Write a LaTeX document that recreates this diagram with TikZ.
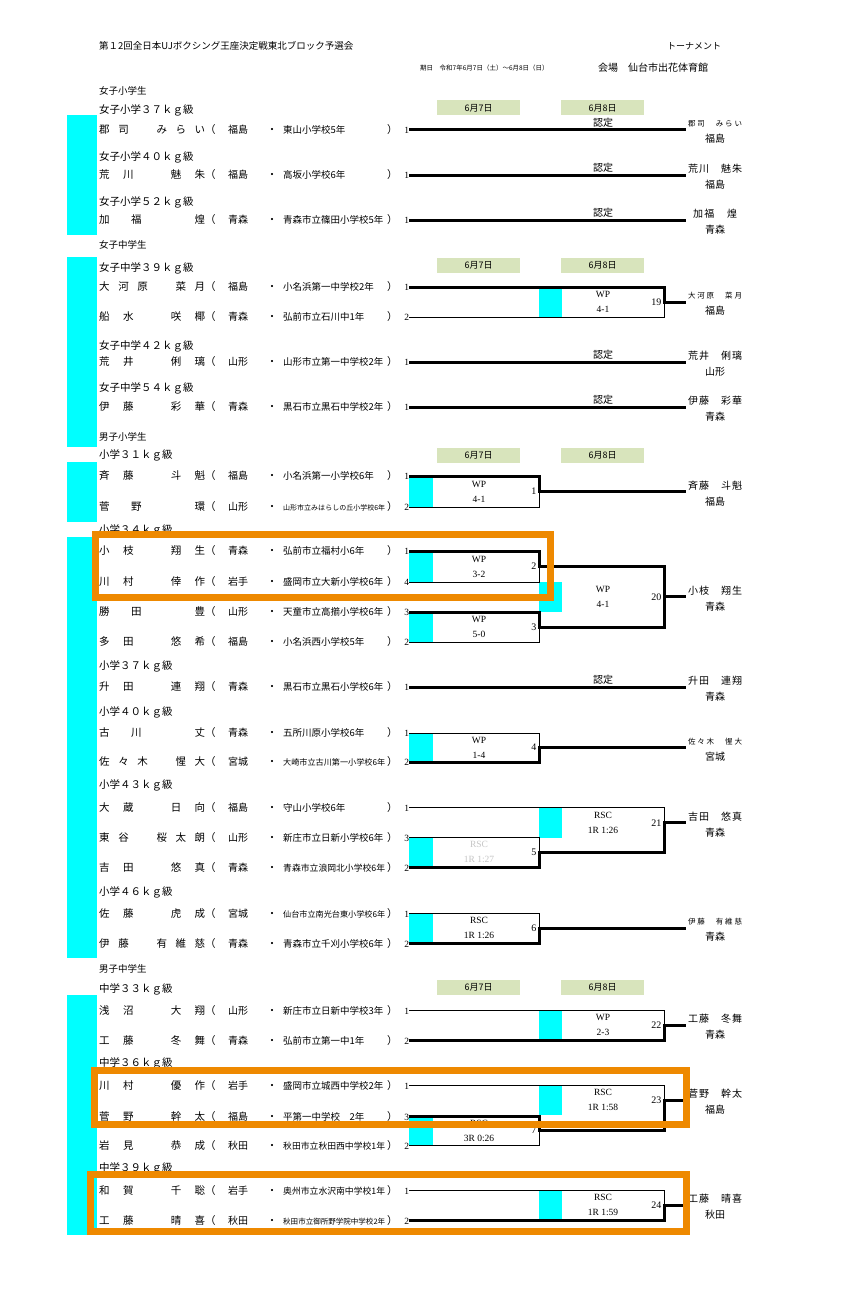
\documentclass[tikz,border=0pt]{standalone}
\usepackage{fontspec}
\usepackage{graphicx}
\setmainfont{Noto Sans CJK JP}
\newfontfamily\lat{Liberation Serif}
\usetikzlibrary{calc}
\definecolor{boxorange}{RGB}{238,137,0}
\definecolor{dategreen}{RGB}{216,228,188}
\definecolor{barcyan}{RGB}{0,255,255}
\def\spreadloop#1#2{#1\ifx\relax#2\expandafter\spreadend\else\hfill\expandafter\spreadloop\fi#2}
\def\spreadend#1{}
\newcommand\spread[2][106pt]{\makebox[#1][s]{\spreadloop#2\relax}}
\newsavebox\schbox
\newcommand\fitschool[1]{\sbox\schbox{\fontsize{9.5}{11}\selectfont #1}%
	\ifdim\wd\schbox>102pt\resizebox{102pt}{!}{\usebox\schbox}\else\usebox\schbox\fi}
\newcommand\player[4]{\spread{#1}\makebox[11pt][l]{（}\hspace{12pt}%
	\makebox[38.5pt][l]{\fontsize{10}{12}\selectfont #2}\makebox[11pt]{・}\hspace{5.5pt}%
	\makebox[104pt][l]{\fitschool{#3}}\makebox[11pt][l]{）}%
	\makebox[11pt][r]{\lat\fontsize{9.5}{10}\selectfont #4}\hspace{5pt}}
\newcommand\wsmall{\fontsize{7.5}{16}\selectfont}
\begin{document}
\begin{tikzpicture}[x=1pt, y=-1pt,
	every node/.style = {inner sep=0pt},
	row/.style = {anchor=west, font=\fontsize{10.5}{12}\selectfont},
	klass/.style = {anchor=west, font=\fontsize{10.5}{12}\selectfont},
	division/.style = {anchor=west, font=\fontsize{9.5}{11}\selectfont},
	datebox/.style = {fill=dategreen, minimum width=83pt, minimum height=15pt,
		font=\fontsize{9}{10}\selectfont},
	win/.style = {line width=3pt, line join=miter},
	lose/.style = {line width=0.9pt},
	nintei/.style = {font=\fontsize{10}{12}\selectfont},
	result/.style = {align=center, font=\lat\fontsize{9.5}{15}\selectfont},
	num/.style = {anchor=east, inner sep=2.5pt, font=\lat\fontsize{10}{11}\selectfont},
	winner/.style = {align=center, font=\fontsize{10}{16}\selectfont},
	band/.style = {draw=boxorange, line width=7pt}]
	\fill[white] (0,0) rectangle (844,1295);
	\useasboundingbox (0,0) rectangle (844,1295);

	\fill[barcyan] (67,115) rectangle (97,235);
	\fill[barcyan] (67,257) rectangle (97,447);
	\fill[barcyan] (67,462) rectangle (97,522);
	\fill[barcyan] (67,537) rectangle (97,958);
	\fill[barcyan] (67,995) rectangle (97,1235);

	\node[anchor=west, font=\fontsize{9.5}{11}\selectfont] (title) at (99,46)
		{第１2回全日本UJボクシング王座決定戦東北ブロック予選会};
	\node[anchor=west, font=\fontsize{9}{11}\selectfont] (kind) at (667,46) {トーナメント};
	\node[anchor=west, font=\fontsize{6.5}{8}\selectfont] (dates) at (420,68)
		{期日　令和7年6月7日（土）～6月8日（日）};
	\node[anchor=west, font=\fontsize{10}{12}\selectfont] (venue) at (598,68) {会場　仙台市出花体育館};

	\node[datebox] (d1a) at (478.5,108) {6月7日};
	\node[datebox] (d1b) at (602.5,108) {6月8日};
	\node[datebox] (d2a) at (478.5,265) {6月7日};
	\node[datebox] (d2b) at (602.5,265) {6月8日};
	\node[datebox] (d3a) at (478.5,455) {6月7日};
	\node[datebox] (d3b) at (602.5,455) {6月8日};
	\node[datebox] (d4a) at (478.5,987) {6月7日};
	\node[datebox] (d4b) at (602.5,987) {6月8日};

	\node[division] (g1) at (99,91) {女子小学生};
	\node[klass] (k1) at (99,110) {女子小学３７ｋｇ級};
	\node[klass] (k2) at (99,157) {女子小学４０ｋｇ級};
	\node[klass] (k3) at (99,202) {女子小学５２ｋｇ級};
	\node[division] (g2) at (99,245) {女子中学生};
	\node[klass] (k4) at (99,268) {女子中学３９ｋｇ級};
	\node[klass] (k5) at (99,346) {女子中学４２ｋｇ級};
	\node[klass] (k6) at (99,388) {女子中学５４ｋｇ級};
	\node[division] (g3) at (99,437) {男子小学生};
	\node[klass] (k7) at (99,455) {小学３１ｋｇ級};
	\node[klass] (k8) at (99,530) {小学３４ｋｇ級};
	\node[klass] (k9) at (99,666) {小学３７ｋｇ級};
	\node[klass] (k10) at (99,712) {小学４０ｋｇ級};
	\node[klass] (k11) at (99,785) {小学４３ｋｇ級};
	\node[klass] (k12) at (99,892) {小学４６ｋｇ級};
	\node[division] (g4) at (99,969) {男子中学生};
	\node[klass] (k13) at (99,989) {中学３３ｋｇ級};
	\node[klass] (k14) at (99,1063) {中学３６ｋｇ級};
	\node[klass] (k15) at (99,1168) {中学３９ｋｇ級};

	\node[row] (p1) at (99,130) {\player{郡司　みらい}{福島}{東山小学校5年}{1}};
	\node[row] (p2) at (99,175) {\player{荒川　魅朱}{福島}{高坂小学校6年}{1}};
	\node[row] (p3) at (99,220) {\player{加福　煌}{青森}{青森市立篠田小学校5年}{1}};
	\node[row] (p4) at (99,287) {\player{大河原　菜月}{福島}{小名浜第一中学校2年}{1}};
	\node[row] (p5) at (99,317) {\player{船水　咲椰}{青森}{弘前市立石川中1年}{2}};
	\node[row] (p6) at (99,362) {\player{荒井　俐璃}{山形}{山形市立第一中学校2年}{1}};
	\node[row] (p7) at (99,407) {\player{伊藤　彩華}{青森}{黒石市立黒石中学校2年}{1}};
	\node[row] (p8) at (99,476) {\player{斉藤　斗魁}{福島}{小名浜第一小学校6年}{1}};
	\node[row] (p9) at (99,507) {\player{菅野　環}{山形}{山形市立みはらしの丘小学校6年}{2}};
	\node[row] (p10) at (99,551) {\player{小枝　翔生}{青森}{弘前市立福村小6年}{1}};
	\node[row] (p11) at (99,582) {\player{川村　倖作}{岩手}{盛岡市立大新小学校6年}{4}};
	\node[row] (p12) at (99,612) {\player{勝田　豊}{山形}{天童市立高擶小学校6年}{3}};
	\node[row] (p13) at (99,642) {\player{多田　悠希}{福島}{小名浜西小学校5年}{2}};
	\node[row] (p14) at (99,687) {\player{升田　連翔}{青森}{黒石市立黒石小学校6年}{1}};
	\node[row] (p15) at (99,733) {\player{古川　丈}{青森}{五所川原小学校6年}{1}};
	\node[row] (p16) at (99,762) {\player{佐々木　惺大}{宮城}{大崎市立古川第一小学校6年}{2}};
	\node[row] (p17) at (99,807) {\player{大蔵　日向}{福島}{守山小学校6年}{1}};
	\node[row] (p18) at (99,837) {\player{東谷　桜太朗}{山形}{新庄市立日新小学校6年}{3}};
	\node[row] (p19) at (99,867) {\player{吉田　悠真}{青森}{青森市立浪岡北小学校6年}{2}};
	\node[row] (p20) at (99,913) {\player{佐藤　虎成}{宮城}{仙台市立南光台東小学校6年}{1}};
	\node[row] (p21) at (99,943) {\player{伊藤　有維慈}{青森}{青森市立千刈小学校6年}{2}};
	\node[row] (p22) at (99,1010) {\player{浅沼　大翔}{山形}{新庄市立日新中学校3年}{1}};
	\node[row] (p23) at (99,1040) {\player{工藤　冬舞}{青森}{弘前市立第一中1年}{2}};
	\node[row] (p24) at (99,1085) {\player{川村　優作}{岩手}{盛岡市立城西中学校2年}{1}};
	\node[row] (p25) at (99,1116) {\player{菅野　幹太}{福島}{平第一中学校　2年}{3}};
	\node[row] (p26) at (99,1145) {\player{岩見　恭成}{秋田}{秋田市立秋田西中学校1年}{2}};
	\node[row] (p27) at (99,1190) {\player{和賀　千聡}{岩手}{奥州市立水沢南中学校1年}{1}};
	\node[row] (p28) at (99,1220) {\player{工藤　晴喜}{秋田}{秋田市立御所野学院中学校2年}{2}};

	\coordinate (xa) at (539,0);
	\coordinate (xb) at (664,0);
	\coordinate (xe) at (686,0);
	\coordinate (xr1) at (479,0);
	\coordinate (xr2) at (603,0);
	\coordinate (xw) at (715,0);

	\coordinate (m1) at ($(p8.east -| xa)!.5!(p9.east -| xa)$);
	\coordinate (m2) at ($(p10.east -| xa)!.5!(p11.east -| xa)$);
	\coordinate (m3) at ($(p12.east -| xa)!.5!(p13.east -| xa)$);
	\coordinate (m4) at ($(p15.east -| xa)!.5!(p16.east -| xa)$);
	\coordinate (m5) at ($(p18.east -| xa)!.5!(p19.east -| xa)$);
	\coordinate (m6) at ($(p20.east -| xa)!.5!(p21.east -| xa)$);
	\coordinate (m7) at ($(p25.east -| xa)!.5!(p26.east -| xa)$);
	\coordinate (m19) at ($(p4.east -| xb)!.5!(p5.east -| xb)$);
	\coordinate (m20) at ($(m2 -| xb)!.5!(m3 -| xb)$);
	\coordinate (m21) at ($(p17.east -| xb)!.35!(m5 -| xb)$);
	\coordinate (m22) at ($(p22.east -| xb)!.5!(p23.east -| xb)$);
	\coordinate (m23) at ($(p24.east -| xb)!.33!(m7 -| xb)$);
	\coordinate (m24) at ($(p27.east -| xb)!.5!(p28.east -| xb)$);

	\fill[barcyan] (p8.east) rectangle ($(p9.east)+(24,0)$);
	\fill[barcyan] (p10.east) rectangle ($(p11.east)+(24,0)$);
	\fill[barcyan] (p12.east) rectangle ($(p13.east)+(24,0)$);
	\fill[barcyan] (p15.east) rectangle ($(p16.east)+(24,0)$);
	\fill[barcyan] (p18.east) rectangle ($(p19.east)+(24,0)$);
	\fill[barcyan] (p20.east) rectangle ($(p21.east)+(24,0)$);
	\fill[barcyan] (p25.east) rectangle ($(p26.east)+(24,0)$);
	\fill[barcyan] ($(m19 -| xa)+(0,-15)$) rectangle ++(23,30);
	\fill[barcyan] ($(m20 -| xa)+(0,-15)$) rectangle ++(23,30);
	\fill[barcyan] ($(m21 -| xa)+(0,-15)$) rectangle ++(23,30);
	\fill[barcyan] ($(m22 -| xa)+(0,-15)$) rectangle ++(23,30);
	\fill[barcyan] ($(m23 -| xa)+(0,-15)$) rectangle ++(23,30);
	\fill[barcyan] ($(m24 -| xa)+(0,-15)$) rectangle ++(23,30);

	\draw[win] (p1.east) -- (p1.east -| xe);
	\draw[win] (p2.east) -- (p2.east -| xe);
	\draw[win] (p3.east) -- (p3.east -| xe);
	\draw[win] (p6.east) -- (p6.east -| xe);
	\draw[win] (p7.east) -- (p7.east -| xe);
	\draw[win] (p14.east) -- (p14.east -| xe);

	\draw[lose] (p5.east) -- (p5.east -| xb) -- (m19);
	\draw[win] (p4.east) -- (p4.east -| xb) -- (m19) -- (m19 -| xe);
	\draw[lose] (p9.east) -- (p9.east -| xa) -- (m1);
	\draw[win] (p8.east) -- (p8.east -| xa) -- (m1) -- (m1 -| xe);
	\draw[lose] (p11.east) -- (p11.east -| xa) -- (m2);
	\draw[lose] (p13.east) -- (p13.east -| xa) -- (m3);
	\draw[win] (p10.east) -- (p10.east -| xa) -- (m2) -- (m2 -| xb) -- (m20) -- (m20 -| xe);
	\draw[win] (p12.east) -- (p12.east -| xa) -- (m3) -- (m3 -| xb) -- (m20);
	\draw[lose] (p15.east) -- (p15.east -| xa) -- (m4);
	\draw[win] (p16.east) -- (p16.east -| xa) -- (m4) -- (m4 -| xe);
	\draw[lose] (p18.east) -- (p18.east -| xa) -- (m5);
	\draw[lose] (p17.east) -- (p17.east -| xb) -- (m21);
	\draw[win] (p19.east) -- (p19.east -| xa) -- (m5) -- (m5 -| xb) -- (m21) -- (m21 -| xe);
	\draw[lose] (p20.east) -- (p20.east -| xa) -- (m6);
	\draw[win] (p21.east) -- (p21.east -| xa) -- (m6) -- (m6 -| xe);
	\draw[lose] (p22.east) -- (p22.east -| xb) -- (m22);
	\draw[win] (p23.east) -- (p23.east -| xb) -- (m22) -- (m22 -| xe);
	\draw[lose] (p26.east) -- (p26.east -| xa) -- (m7);
	\draw[lose] (p24.east) -- (p24.east -| xb) -- (m23);
	\draw[win] (p25.east) -- (p25.east -| xa) -- (m7) -- (m7 -| xb) -- (m23) -- (m23 -| xe);
	\draw[lose] (p27.east) -- (p27.east -| xb) -- (m24);
	\draw[win] (p28.east) -- (p28.east -| xb) -- (m24) -- (m24 -| xe);

	\node[nintei] (n1) at ($(p1.east -| xr2)+(0,-7)$) {認定};
	\node[nintei] (n2) at ($(p2.east -| xr2)+(0,-7)$) {認定};
	\node[nintei] (n3) at ($(p3.east -| xr2)+(0,-7)$) {認定};
	\node[nintei] (n6) at ($(p6.east -| xr2)+(0,-7)$) {認定};
	\node[nintei] (n7) at ($(p7.east -| xr2)+(0,-7)$) {認定};
	\node[nintei] (n14) at ($(p14.east -| xr2)+(0,-7)$) {認定};

	\node[result] (r1) at (m1 -| xr1) {WP\\4-1};
	\node[result] (r2) at (m2 -| xr1) {WP\\3-2};
	\node[result] (r3) at (m3 -| xr1) {WP\\5-0};
	\node[result] (r4) at (m4 -| xr1) {WP\\1-4};
	\node[result, text=gray!45] (r5) at (m5 -| xr1) {RSC\\1R 1:27};
	\node[result] (r6) at (m6 -| xr1) {RSC\\1R 1:26};
	\node[result] (r7) at (m7 -| xr1) {RSC\\3R 0:26};
	\node[result] (r19) at (m19 -| xr2) {WP\\4-1};
	\node[result] (r20) at (m20 -| xr2) {WP\\4-1};
	\node[result] (r21) at (m21 -| xr2) {RSC\\1R 1:26};
	\node[result] (r22) at (m22 -| xr2) {WP\\2-3};
	\node[result] (r23) at (m23 -| xr2) {RSC\\1R 1:58};
	\node[result] (r24) at (m24 -| xr2) {RSC\\1R 1:59};

	\node[num] (c1) at (m1) {1};
	\node[num] (c2) at (m2) {2};
	\node[num] (c3) at (m3) {3};
	\node[num] (c4) at (m4) {4};
	\node[num] (c5) at (m5) {5};
	\node[num] (c6) at (m6) {6};
	\node[num] (c7) at (m7) {7};
	\node[num] (c19) at (m19) {19};
	\node[num] (c20) at (m20) {20};
	\node[num] (c21) at (m21) {21};
	\node[num] (c22) at (m22) {22};
	\node[num] (c23) at (m23) {23};
	\node[num] (c24) at (m24) {24};

	\node[winner] (wp1) at ($(p1.east -| xw)+(0,2)$) {{\wsmall\spread[54pt]{郡司　みらい}}\\福島};
	\node[winner] (wp2) at ($(p2.east -| xw)+(0,2)$) {\spread[54pt]{荒川　魅朱}\\福島};
	\node[winner] (wp3) at ($(p3.east -| xw)+(0,2)$) {\spread[44pt]{加福　煌}\\青森};
	\node[winner] (w19) at ($(m19 -| xw)+(0,2)$) {{\wsmall\spread[54pt]{大河原　菜月}}\\福島};
	\node[winner] (wp6) at ($(p6.east -| xw)+(0,2)$) {\spread[54pt]{荒井　俐璃}\\山形};
	\node[winner] (wp7) at ($(p7.east -| xw)+(0,2)$) {\spread[54pt]{伊藤　彩華}\\青森};
	\node[winner] (w1) at ($(m1 -| xw)+(0,2)$) {\spread[54pt]{斉藤　斗魁}\\福島};
	\node[winner] (w20) at ($(m20 -| xw)+(0,2)$) {\spread[54pt]{小枝　翔生}\\青森};
	\node[winner] (wp14) at ($(p14.east -| xw)+(0,2)$) {\spread[54pt]{升田　連翔}\\青森};
	\node[winner] (w4) at ($(m4 -| xw)+(0,2)$) {{\wsmall\spread[54pt]{佐々木　惺大}}\\宮城};
	\node[winner] (w21) at ($(m21 -| xw)+(0,2)$) {\spread[54pt]{吉田　悠真}\\青森};
	\node[winner] (w6) at ($(m6 -| xw)+(0,2)$) {{\wsmall\spread[54pt]{伊藤　有維慈}}\\青森};
	\node[winner] (w22) at ($(m22 -| xw)+(0,2)$) {\spread[54pt]{工藤　冬舞}\\青森};
	\node[winner] (w23) at ($(m23 -| xw)+(0,2)$) {\spread[54pt]{菅野　幹太}\\福島};
	\node[winner] (w24) at ($(m24 -| xw)+(0,2)$) {\spread[54pt]{工藤　晴喜}\\秋田};

	\draw[band] (95,534.5) rectangle (550,597);
	\draw[band] (94.5,1070) rectangle (686,1124.5);
	\draw[band] (90,1174) rectangle (686,1231);
\end{tikzpicture}
\end{document}
